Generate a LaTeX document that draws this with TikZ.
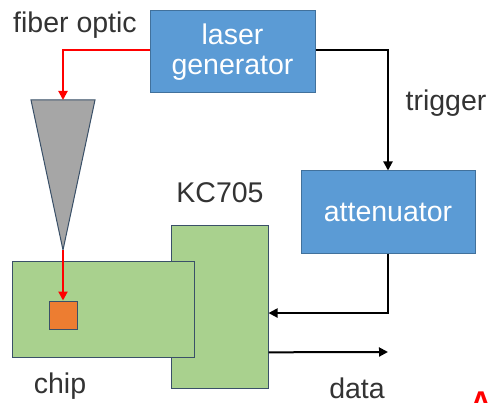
\documentclass[tikz,border=0pt]{standalone}
\usepackage{fontspec}
\setmainfont{Liberation Sans}
\usetikzlibrary{arrows.meta,calc}
\definecolor{boxblue}{HTML}{5B9BD5}
\definecolor{boxedge}{HTML}{41719C}
\definecolor{board}{HTML}{A9D18E}
\definecolor{board edge}{HTML}{3A5068}
\definecolor{die}{HTML}{ED7D31}
\definecolor{probe}{HTML}{A6A6A6}
\tikzset{
  unit/.style={rectangle,draw=boxedge,fill=boxblue,text=white,align=center,
    font=\fontsize{28.5}{30}\selectfont,inner sep=0pt,line width=1pt},
  pcb/.style={rectangle,draw=board edge,fill=board,line width=1pt,inner sep=0pt},
  lbl/.style={font=\fontsize{28.5}{30}\selectfont,text=black!80,inner sep=0pt},
  sig/.style={-{Triangle[length=9pt,width=9pt]},line width=2pt,draw=black},
  beam/.style={-{Triangle[length=9pt,width=9pt]},line width=2pt,draw=red},
}

\begin{document}
\begin{tikzpicture}[x=1pt,y=-1pt]
  \useasboundingbox (0,0) rectangle (492,403);
  \node[unit,minimum width=165pt,minimum height=82pt] (laser) at (232.5,52) {laser\\generator};
  \node[unit,minimum width=174pt,minimum height=82pt] (atten) at (388,212) {attenuator};
  \node[pcb,minimum width=97pt,minimum height=162pt] (kc) at (219.5,307) {};
  \node[pcb,minimum width=182pt,minimum height=96pt] (chip) at (103,309) {};
  \node[rectangle,draw=board edge,fill=die,line width=1pt,minimum size=28pt,inner sep=0pt] (pad) at (63,315) {};
  % probe cone
  \coordinate (ptop) at (63,100);
  \coordinate (tip) at (63,250);
  \draw[board edge,fill=probe,line width=1pt] (31,100) -- (95,100) -- (tip) -- cycle;
  % labels
  \node[lbl] (lfib) at (75,25) {fiber optic};
  \node[lbl] (lkc) at (220,193) {KC705};
  \node[lbl] (lchip) at (60,386) {chip};
  \node[lbl] (ltrig) at (446,103) {trigger};
  \node[lbl] (ldata) at (357,388) {data};
  \node[anchor=north,inner sep=0pt,text=red,font=\fontsize{30}{32}\selectfont\bfseries] (mark) at (481,392) {A};
  % connectors
  \coordinate (kcin) at ($(kc.north east)!0.537!(kc.south east)$);
  \coordinate (kcout) at ($(kc.north east)!0.778!(kc.south east)$);
  \coordinate (dataend) at (388,352);
  \draw[beam] ($(laser.west)+(0,-2)$) -| (ptop);
  \draw[beam] (tip) -- (pad.north);
  \draw[sig] ($(laser.east)+(0,-2)$) -| (atten.north);
  \draw[sig] (atten.south) |- (kcin);
  \draw[sig] (kcout) -- (dataend);
\end{tikzpicture}
\end{document}
